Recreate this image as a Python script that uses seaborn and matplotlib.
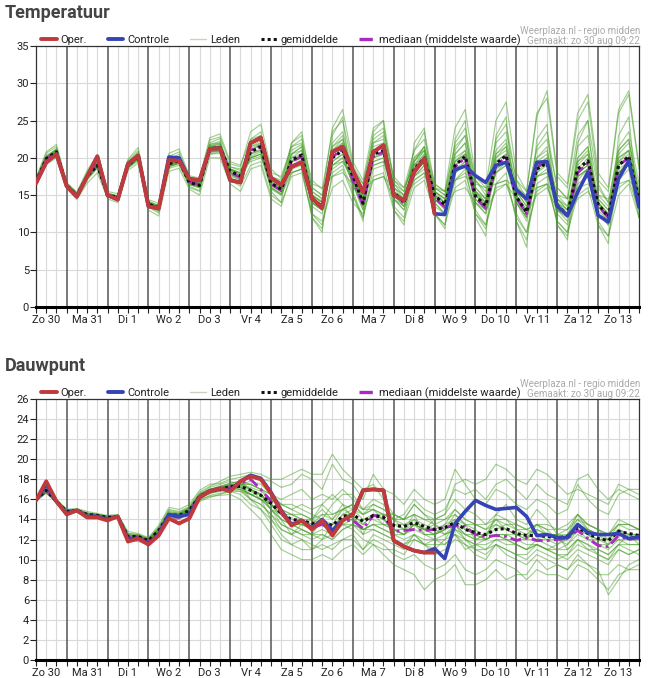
import numpy as np
import pandas as pd
import matplotlib
matplotlib.use("Agg")
import matplotlib.pyplot as plt
import seaborn as sns
from matplotlib.lines import Line2D

sns.set_theme(style="white")
plt.rcParams["font.family"] = ["Roboto", "DejaVu Sans"]

# ---------------- data ----------------
day_labels = ["Zo 30", "Ma 31", "Di 1", "Wo 2", "Do 3", "Vr 4", "Za 5", "Zo 6",
              "Ma 7", "Di 8", "Wo 9", "Do 10", "Vr 11", "Za 12", "Zo 13"]

temp_oper = [16.6, 19.4, 20.5, 16.2, 14.8, 17.5, 20.2, 15.0, 14.4, 19.2, 20.3,
             13.5, 13.2, 19.7, 19.6, 17.2, 17.0, 21.2, 21.3, 17.0, 16.7, 22.0, 22.7,
             17.3, 16.4, 18.8, 19.4, 14.6, 13.3, 20.8, 21.5, 18.3, 15.4, 20.8, 21.7,
             15.0, 14.3, 18.1, 19.9, 12.5]
temp_ctrl = [16.6, 19.4, 20.5, 16.2, 14.8, 17.5, 20.2, 15.0, 14.4, 19.2, 20.3,
             13.5, 13.2, 20.1, 20.0, 17.2, 17.0, 21.2, 21.3, 17.0, 16.7, 22.0, 22.7,
             17.3, 16.4, 18.8, 19.4, 14.6, 13.3, 20.8, 21.5, 18.3, 15.4, 20.8, 21.7,
             15.0, 14.3, 18.1, 19.9, 12.5, 12.4, 18.4, 18.9, 17.6, 16.7, 19.0, 19.4,
             15.7, 14.5, 19.4, 19.5, 13.5, 12.3, 15.4, 18.1, 12.3, 11.4, 17.2, 19.6, 13.4]
temp_mean = [16.8, 19.9, 20.8, 16.3, 15.0, 17.5, 19.0, 15.0, 14.7, 19.0, 20.2,
             13.8, 13.3, 19.2, 19.6, 16.7, 16.3, 21.2, 21.4, 18.2, 17.6, 20.8, 21.5,
             16.6, 15.8, 19.7, 20.4, 14.5, 13.5, 20.0, 21.0, 17.6, 13.9, 20.5, 21.0,
             15.4, 14.0, 18.5, 20.0, 15.0, 13.7, 19.0, 20.2, 14.9, 13.6, 19.2, 20.3,
             14.8, 12.7, 18.5, 19.3, 13.6, 12.4, 18.5, 19.6, 13.8, 12.1, 19.0, 20.2, 14.3]
temp_median = [16.8, 19.8, 20.8, 16.3, 15.0, 17.6, 19.2, 15.0, 14.7, 19.1, 20.2,
               13.7, 13.3, 19.4, 19.7, 16.8, 16.4, 21.2, 21.4, 18.0, 17.4, 21.0, 21.6,
               16.5, 15.6, 19.5, 20.2, 14.4, 13.4, 20.1, 21.2, 17.0, 13.7, 20.2, 20.8,
               15.2, 13.9, 18.4, 19.8, 14.6, 13.4, 18.8, 20.0, 14.6, 13.3, 19.0, 20.1,
               14.6, 12.5, 18.8, 19.5, 13.4, 12.2, 18.0, 19.3, 13.6, 12.0, 19.0, 20.0, 14.0]
temp_members = [
    [17.2, 20.6, 21.5, 16.5, 15.3, 18.0, 20.0, 15.3, 14.9, 19.6, 21.0, 14.2, 13.6, 20.2, 20.8,
     17.2, 16.8, 22.4, 22.8, 19.2, 18.8, 23.5, 24.5, 18.5, 17.2, 21.5, 22.5, 17.0, 15.8, 23.5, 25.0,
     19.0, 16.5, 23.0, 24.0, 17.0, 15.5, 20.0, 21.0, 15.5, 14.0, 19.5, 20.5, 15.5, 13.5, 18.0, 19.5,
     15.0, 12.5, 19.0, 20.0, 14.5, 13.0, 18.0, 19.0, 14.0, 12.5, 20.0, 21.0, 15.0],
    [16.5, 19.4, 20.3, 16.0, 14.6, 17.0, 18.6, 14.8, 14.3, 18.6, 19.6, 13.5, 12.8, 18.6, 19.0,
     16.2, 15.6, 20.5, 20.6, 17.0, 16.2, 19.0, 19.5, 15.0, 14.0, 17.5, 18.0, 12.5, 11.0, 17.5, 18.5,
     15.0, 12.0, 17.5, 18.0, 13.0, 11.5, 16.0, 17.0, 12.5, 11.0, 16.0, 17.0, 12.5, 11.0, 16.5, 17.0,
     12.0, 10.0, 16.0, 16.5, 11.5, 10.0, 15.0, 16.0, 11.0, 9.5, 15.0, 16.5, 12.0],
    [16.9, 20.1, 21.0, 16.4, 15.1, 17.6, 19.3, 15.1, 14.8, 19.2, 20.4, 13.9, 13.4, 19.4, 19.9,
     16.9, 16.5, 21.6, 21.8, 18.5, 17.8, 21.5, 22.0, 17.0, 16.0, 20.5, 21.5, 15.0, 14.0, 21.0, 22.5,
     18.0, 15.0, 22.0, 23.0, 16.5, 15.0, 21.0, 23.5, 16.5, 15.5, 24.0, 26.5, 17.5, 16.0, 25.0, 27.5,
     18.0, 15.5, 26.0, 28.0, 17.5, 16.0, 25.0, 27.5, 17.0, 15.5, 26.0, 28.5, 18.5],
    [17.0, 20.2, 21.2, 16.6, 15.2, 17.8, 19.4, 15.2, 14.9, 19.4, 20.6, 14.0, 13.5, 19.6, 20.1,
     17.0, 16.6, 21.8, 22.0, 18.8, 18.3, 21.8, 22.5, 17.5, 16.8, 21.0, 21.8, 15.5, 14.5, 21.5, 22.5,
     18.5, 15.0, 21.5, 22.0, 16.5, 15.5, 19.5, 21.5, 16.0, 15.0, 20.5, 22.0, 16.0, 14.5, 20.5, 21.5,
     16.5, 14.0, 20.0, 21.0, 15.0, 13.5, 20.0, 21.5, 15.0, 13.5, 20.5, 22.0, 15.5],
    [16.6, 19.6, 20.5, 16.1, 14.8, 17.2, 18.7, 14.8, 14.5, 18.7, 19.8, 13.6, 13.0, 18.8, 19.3,
     16.4, 16.0, 20.7, 20.9, 17.6, 17.0, 20.0, 20.5, 15.8, 15.0, 18.5, 19.5, 13.5, 12.5, 19.0, 20.0,
     16.5, 13.0, 19.5, 20.0, 14.5, 13.0, 17.5, 19.0, 13.5, 12.5, 18.0, 19.0, 14.0, 12.5, 18.0, 19.0,
     14.0, 11.5, 17.5, 18.0, 12.5, 11.0, 17.5, 18.5, 12.5, 11.0, 18.0, 19.0, 13.5],
    [16.7, 20.0, 21.2, 16.2, 14.7, 17.7, 19.6, 14.8, 14.4, 19.3, 20.8, 13.4, 12.6, 19.8, 20.5,
     16.0, 15.5, 22.0, 22.6, 17.5, 16.5, 22.5, 23.5, 15.5, 14.0, 22.0, 23.0, 12.0, 10.0, 23.0, 25.5,
     15.0, 11.5, 23.5, 25.0, 13.0, 11.0, 22.0, 24.0, 12.5, 10.5, 22.5, 25.0, 12.0, 9.5, 23.0, 25.5,
     11.5, 8.0, 22.5, 24.5, 11.0, 9.0, 22.0, 25.0, 11.0, 8.5, 23.0, 25.5, 12.0],
    [16.8, 19.8, 20.6, 16.4, 15.2, 17.4, 18.8, 15.1, 14.8, 18.8, 19.9, 14.0, 13.6, 18.9, 19.3,
     17.0, 16.8, 20.5, 20.8, 18.8, 18.5, 19.5, 20.0, 17.5, 17.0, 18.0, 18.5, 16.5, 16.0, 17.5, 18.0,
     16.5, 15.5, 17.0, 17.5, 16.0, 15.0, 16.5, 17.5, 16.0, 15.5, 17.0, 17.5, 16.5, 16.0, 16.5, 17.0,
     16.0, 15.0, 16.0, 16.5, 15.0, 14.5, 16.0, 16.5, 15.0, 14.5, 16.5, 17.0, 15.5],
    [16.9, 20.0, 20.9, 16.3, 15.0, 17.6, 19.1, 15.0, 14.6, 18.9, 20.0, 13.7, 13.2, 19.0, 19.4,
     16.6, 16.2, 20.8, 21.0, 17.8, 17.2, 19.8, 20.2, 16.0, 15.0, 18.0, 18.5, 12.5, 11.5, 16.0, 17.0,
     14.0, 12.5, 17.0, 17.5, 14.5, 13.5, 19.5, 21.5, 16.0, 15.0, 22.0, 24.0, 17.0, 15.0, 21.0, 22.5,
     16.0, 14.0, 21.5, 23.5, 16.0, 14.5, 23.0, 25.0, 16.5, 14.0, 21.0, 22.5, 15.5],
    [16.7, 19.7, 20.7, 16.2, 14.9, 17.3, 18.8, 14.9, 14.6, 18.8, 20.1, 13.8, 13.4, 19.5, 20.0,
     17.0, 16.5, 21.5, 21.8, 18.5, 18.0, 22.0, 23.0, 17.5, 16.5, 22.0, 23.5, 16.0, 15.0, 24.0, 26.5,
     19.5, 17.0, 24.0, 25.0, 17.0, 16.0, 19.0, 20.0, 14.0, 12.5, 17.0, 18.0, 13.0, 11.0, 16.0, 16.5,
     12.5, 10.0, 15.5, 16.5, 11.5, 10.0, 17.0, 18.5, 12.5, 11.0, 18.0, 19.5, 13.5],
    [16.8, 19.9, 20.7, 16.3, 15.0, 17.5, 18.9, 15.0, 14.7, 19.1, 20.2, 13.9, 13.3, 19.1, 19.6,
     16.8, 16.4, 21.0, 21.3, 18.3, 17.5, 21.0, 21.8, 16.5, 15.5, 19.0, 19.5, 14.0, 13.0, 20.5, 22.0,
     17.5, 14.5, 21.0, 21.5, 15.5, 14.0, 18.0, 19.5, 15.0, 14.0, 19.5, 21.0, 15.5, 14.0, 19.0, 19.5,
     14.5, 12.0, 18.0, 19.5, 14.0, 12.5, 19.5, 21.0, 14.0, 12.0, 19.0, 20.0, 14.0],
    [16.9, 20.1, 21.0, 16.4, 15.1, 17.6, 19.2, 15.1, 14.8, 19.2, 20.4, 13.9, 13.3, 19.3, 19.7,
     16.8, 16.4, 21.4, 21.6, 18.0, 17.4, 20.5, 21.0, 16.0, 15.2, 19.5, 20.0, 14.0, 13.0, 19.5, 20.5,
     16.5, 13.5, 20.0, 20.5, 15.0, 13.5, 19.0, 21.0, 15.0, 14.0, 21.0, 23.0, 16.0, 14.5, 22.5, 24.5,
     17.0, 15.5, 25.5, 29.0, 18.0, 16.5, 26.0, 28.5, 18.0, 16.0, 26.5, 29.0, 19.0],
    [16.6, 19.5, 20.4, 16.2, 14.9, 17.3, 18.8, 14.9, 14.5, 18.7, 19.9, 13.7, 13.1, 18.9, 19.3,
     16.5, 16.1, 20.8, 21.0, 18.0, 17.6, 20.0, 20.5, 16.5, 16.0, 18.5, 19.0, 15.0, 14.0, 18.5, 19.5,
     17.0, 14.5, 19.0, 19.5, 15.5, 14.5, 17.0, 18.0, 14.5, 13.5, 15.5, 16.0, 14.0, 13.0, 15.5, 16.5,
     14.5, 12.5, 15.0, 16.0, 13.0, 12.0, 14.5, 15.5, 13.5, 12.0, 16.0, 17.0, 13.0],
    [16.4, 19.1, 20.0, 15.9, 14.4, 16.6, 18.0, 14.5, 14.0, 18.3, 19.3, 13.0, 12.2, 18.2, 18.6,
     15.8, 15.0, 20.0, 20.0, 16.5, 15.5, 18.5, 19.0, 14.5, 13.5, 18.0, 18.5, 12.0, 10.5, 18.0, 19.0,
     15.5, 12.0, 18.5, 19.0, 13.5, 12.0, 17.0, 18.0, 12.5, 11.0, 17.0, 18.5, 12.5, 10.5, 16.5, 18.0,
     11.5, 9.0, 16.5, 17.5, 11.0, 9.5, 16.5, 17.5, 11.5, 9.5, 17.0, 18.5, 12.0],
    [17.3, 20.8, 21.8, 16.7, 15.4, 18.3, 20.4, 15.5, 15.2, 19.8, 21.4, 14.4, 13.9, 20.6, 21.2,
     17.6, 17.3, 22.7, 23.2, 19.5, 19.0, 22.5, 23.0, 18.0, 17.5, 21.5, 22.0, 16.0, 15.0, 22.0, 23.5,
     18.5, 16.5, 22.5, 23.5, 17.5, 16.0, 21.0, 22.5, 16.5, 15.5, 21.5, 23.0, 17.0, 15.5, 22.0, 23.5,
     17.0, 14.5, 21.0, 22.5, 16.0, 14.5, 21.5, 23.0, 16.0, 14.0, 21.5, 23.5, 16.5],
    [16.7, 20.3, 21.1, 16.5, 15.2, 17.3, 19.3, 15.2, 14.5, 19.3, 20.5, 14.0, 13.5, 19.0, 19.9,
     17.0, 16.6, 21.6, 22.0, 18.0, 17.2, 21.5, 22.3, 17.2, 16.3, 20.5, 21.0, 15.0, 14.2, 21.0, 22.0,
     17.0, 14.5, 21.0, 21.5, 16.0, 14.5, 19.5, 21.0, 15.5, 14.5, 20.0, 21.0, 15.5, 14.0, 20.0, 21.5,
     15.5, 13.5, 19.5, 20.5, 14.5, 13.0, 19.5, 20.5, 14.5, 13.0, 20.0, 21.0, 15.0],
    [16.9, 19.6, 20.6, 16.0, 14.9, 17.8, 18.8, 14.8, 14.6, 18.7, 19.9, 13.6, 13.0, 19.4, 19.4,
     16.4, 16.0, 20.9, 21.0, 18.4, 17.8, 20.2, 20.8, 16.0, 15.2, 19.0, 19.8, 14.0, 13.0, 19.5, 20.5,
     17.0, 13.5, 20.0, 20.5, 15.0, 13.5, 18.0, 19.5, 14.5, 13.0, 18.5, 19.5, 14.5, 13.0, 18.5, 19.5,
     14.0, 12.0, 18.0, 19.0, 13.0, 12.0, 18.0, 19.0, 13.5, 11.5, 18.5, 19.5, 14.0],
    [17.0, 20.0, 20.9, 16.4, 15.1, 17.5, 19.1, 15.0, 14.8, 19.1, 20.3, 13.9, 13.4, 19.1, 19.8,
     16.8, 16.4, 21.5, 21.5, 18.5, 18.0, 21.2, 22.0, 16.8, 16.0, 20.0, 21.0, 15.0, 14.0, 20.5, 21.5,
     18.0, 14.5, 20.5, 20.5, 15.5, 14.5, 18.5, 20.5, 15.5, 14.5, 19.5, 20.5, 15.0, 14.0, 20.0, 21.0,
     15.0, 13.0, 19.0, 20.0, 14.0, 13.0, 19.0, 20.5, 14.0, 12.5, 19.5, 21.0, 14.5],
    [16.6, 19.8, 20.9, 16.2, 14.8, 17.4, 18.9, 14.9, 14.5, 18.9, 20.0, 13.7, 13.2, 18.9, 19.5,
     16.5, 16.2, 21.0, 21.2, 17.8, 17.0, 20.5, 21.0, 16.2, 15.5, 19.5, 20.0, 14.0, 13.0, 19.0, 20.0,
     16.5, 13.0, 19.5, 20.0, 14.5, 13.0, 17.5, 19.0, 14.0, 12.5, 18.0, 19.5, 14.0, 12.5, 18.5, 19.5,
     14.0, 12.0, 17.5, 18.5, 13.0, 11.5, 17.5, 18.5, 13.0, 11.5, 18.0, 19.5, 13.5],
    [16.8, 20.1, 21.0, 16.3, 15.0, 17.9, 19.5, 15.1, 14.7, 19.4, 20.6, 13.8, 13.3, 19.7, 20.2,
     16.7, 16.3, 21.8, 22.2, 18.0, 17.5, 21.8, 22.5, 16.5, 15.5, 20.5, 21.5, 14.5, 13.5, 21.5, 23.0,
     17.5, 14.0, 22.0, 22.5, 15.5, 14.0, 20.0, 21.5, 15.0, 13.5, 20.5, 22.0, 15.0, 13.5, 20.5, 22.0,
     14.5, 12.5, 20.0, 21.5, 13.5, 12.0, 20.0, 21.5, 13.5, 12.0, 21.0, 22.5, 14.5],
    [16.9, 19.7, 20.5, 16.4, 15.2, 17.2, 18.7, 15.2, 14.9, 18.7, 19.8, 14.1, 13.6, 18.8, 19.2,
     17.0, 16.6, 20.8, 21.0, 18.5, 18.0, 20.0, 20.5, 17.0, 16.5, 19.0, 19.5, 15.5, 14.5, 19.0, 19.5,
     17.5, 15.0, 19.0, 19.5, 16.0, 15.0, 17.5, 18.5, 15.5, 14.5, 18.0, 19.0, 15.5, 14.5, 18.0, 19.0,
     15.5, 13.5, 17.5, 18.0, 14.5, 13.5, 17.5, 18.5, 14.5, 13.0, 18.0, 19.0, 15.0],
    [16.8, 20.0, 20.8, 16.3, 14.9, 17.6, 19.0, 14.9, 14.6, 19.0, 20.1, 13.7, 13.1, 19.3, 19.6,
     16.6, 16.2, 21.3, 21.6, 18.3, 17.6, 21.0, 21.8, 16.5, 15.6, 20.0, 20.5, 14.5, 13.5, 20.0, 21.5,
     17.5, 13.5, 21.0, 21.5, 15.0, 14.0, 19.0, 20.5, 15.0, 13.5, 19.0, 20.0, 15.0, 13.5, 19.5, 20.5,
     14.5, 12.5, 18.5, 19.5, 13.5, 12.5, 18.5, 20.0, 14.0, 12.0, 19.5, 20.5, 14.5],
    [16.7, 19.9, 20.7, 16.2, 15.0, 17.4, 18.9, 15.0, 14.6, 18.9, 20.2, 13.8, 13.3, 19.1, 19.5,
     16.7, 16.3, 21.1, 21.3, 18.1, 17.5, 20.6, 21.2, 16.7, 16.0, 19.5, 20.5, 14.5, 13.5, 20.5, 21.5,
     17.5, 14.0, 20.0, 21.0, 15.5, 14.5, 18.0, 19.5, 15.0, 14.0, 19.0, 20.5, 14.5, 13.0, 19.5, 20.5,
     15.0, 13.0, 18.5, 19.5, 14.0, 12.5, 18.0, 19.5, 14.0, 12.5, 19.0, 20.0, 14.0],
]

dew_oper = [15.9, 17.8, 15.8, 14.5, 14.9, 14.2, 14.2, 13.9, 14.3, 11.8, 12.1,
            11.5, 12.4, 14.1, 13.6, 14.1, 16.2, 16.8, 17.1, 16.8, 17.8, 18.3, 18.0,
            16.6, 14.8, 13.4, 13.9, 13.0, 13.9, 12.4, 13.9, 14.5, 16.9, 17.0, 16.9,
            11.9, 11.3, 10.9, 10.7, 10.7]
dew_ctrl = [15.9, 17.5, 15.8, 14.6, 14.9, 14.3, 14.3, 14.0, 14.3, 12.0, 12.1,
            11.6, 12.5, 14.5, 14.3, 14.5, 16.2, 16.8, 17.1, 16.9, 17.8, 18.4, 18.1,
            16.7, 14.9, 13.5, 13.9, 13.1, 14.0, 12.9, 13.9, 14.5, 16.9, 17.0, 16.9,
            11.9, 11.3, 10.9, 10.7, 11.1, 10.1, 13.6, 14.8, 15.9, 15.4, 15.0, 15.1,
            15.2, 14.3, 12.4, 12.5, 12.2, 12.2, 13.5, 12.7, 12.5, 12.5, 12.6, 12.1, 12.3]
dew_mean = [16.0, 16.9, 15.8, 14.8, 14.9, 14.5, 14.4, 14.2, 14.3, 12.3, 12.3,
            11.9, 12.9, 14.5, 14.4, 14.9, 16.3, 16.8, 17.0, 17.3, 17.3, 16.9, 16.4,
            15.6, 14.6, 14.0, 13.9, 13.6, 13.8, 13.4, 14.3, 14.5, 13.8, 14.4, 14.2,
            13.4, 13.3, 13.7, 13.3, 13.0, 13.2, 13.7, 13.0, 12.7, 12.5, 13.0, 13.1,
            12.6, 12.4, 12.4, 12.3, 12.2, 12.3, 13.2, 12.6, 12.1, 11.9, 12.8, 12.6, 12.4]
dew_median = [16.0, 16.9, 15.8, 14.8, 14.9, 14.4, 14.3, 14.1, 14.3, 12.2, 12.3,
              11.8, 12.8, 14.3, 14.2, 14.8, 16.3, 16.9, 17.1, 17.2, 17.6, 18.0, 17.0,
              15.8, 14.6, 13.5, 13.8, 13.2, 13.5, 12.9, 13.9, 13.9, 13.1, 14.4, 14.3,
              12.8, 12.9, 13.0, 12.9, 13.0, 13.2, 13.4, 13.3, 12.5, 12.3, 12.4, 12.3,
              11.9, 12.2, 11.9, 11.9, 12.0, 12.1, 12.9, 12.1, 11.4, 11.3, 12.4, 12.0, 12.2]
dew_members = [
    [16.2, 17.2, 16.0, 15.0, 15.1, 14.8, 14.6, 14.4, 14.5, 12.8, 12.6, 12.2, 13.4, 15.2, 15.0,
     15.5, 16.9, 17.5, 17.6, 18.0, 18.2, 18.5, 18.0, 17.8, 17.2, 17.5, 18.5, 18.0, 17.0, 19.5, 18.0,
     17.5, 16.0, 18.5, 17.0, 16.5, 15.5, 17.0, 16.0, 15.5, 16.0, 19.0, 17.5, 16.0, 15.5, 17.0, 16.5,
     15.5, 15.0, 16.0, 15.5, 14.5, 15.0, 17.5, 16.0, 15.0, 14.5, 16.5, 17.0, 16.5],
    [15.8, 16.7, 15.6, 14.6, 14.8, 14.2, 14.2, 14.0, 14.1, 11.8, 12.0, 11.5, 12.5, 14.0, 14.0,
     14.6, 15.8, 16.2, 16.5, 16.8, 16.5, 15.5, 15.0, 13.5, 12.0, 11.5, 12.0, 11.0, 11.5, 11.0, 12.0,
     12.5, 11.0, 12.0, 11.5, 10.5, 10.0, 10.5, 9.5, 9.0, 9.5, 10.5, 9.0, 8.5, 9.0, 10.0, 9.5,
     9.0, 8.0, 9.0, 8.5, 8.5, 8.0, 9.5, 9.0, 8.0, 7.0, 8.5, 9.0, 9.0],
    [16.1, 17.0, 15.9, 14.9, 15.0, 14.6, 14.5, 14.3, 14.4, 12.5, 12.4, 12.0, 13.0, 14.8, 14.6,
     15.2, 16.5, 17.2, 17.5, 17.8, 17.5, 16.0, 15.0, 14.0, 13.0, 12.5, 13.0, 12.5, 14.0, 15.5, 16.5,
     16.5, 15.0, 16.0, 15.5, 14.0, 13.0, 14.5, 12.5, 12.0, 11.5, 12.5, 11.0, 11.5, 12.0, 14.5, 15.5,
     14.0, 13.5, 15.0, 14.0, 12.5, 11.0, 12.0, 11.5, 10.5, 10.0, 11.5, 12.5, 11.5],
    [15.9, 16.8, 15.7, 14.7, 14.9, 14.4, 14.3, 14.1, 14.2, 12.2, 12.2, 11.8, 12.8, 14.3, 14.3,
     14.8, 16.2, 16.7, 16.8, 17.2, 17.5, 17.8, 17.5, 16.5, 15.5, 15.0, 14.5, 14.0, 15.0, 14.0, 15.0,
     14.5, 12.5, 13.0, 12.5, 12.0, 11.5, 12.5, 11.5, 11.0, 12.0, 13.5, 12.0, 11.0, 10.5, 11.5, 11.0,
     10.5, 10.0, 11.0, 10.5, 10.0, 10.5, 12.0, 11.0, 11.0, 10.5, 11.5, 11.0, 10.5],
    [16.0, 16.9, 15.8, 14.8, 14.8, 14.5, 14.4, 14.2, 14.3, 12.3, 12.3, 11.9, 12.8, 14.5, 14.5,
     15.0, 16.3, 16.9, 17.2, 17.5, 17.6, 17.0, 16.5, 15.0, 13.5, 13.0, 12.5, 12.0, 12.5, 12.0, 13.0,
     13.5, 12.5, 14.5, 13.5, 13.0, 12.5, 13.5, 12.5, 12.5, 13.0, 14.0, 13.5, 13.0, 12.0, 12.5, 12.0,
     11.5, 11.0, 12.0, 11.5, 11.0, 11.5, 13.0, 12.5, 11.5, 11.0, 12.0, 11.5, 11.5],
    [16.1, 17.1, 16.0, 15.0, 15.0, 14.7, 14.5, 14.3, 14.4, 12.6, 12.5, 12.1, 13.2, 15.0, 14.8,
     15.3, 16.7, 17.3, 17.8, 18.3, 18.5, 18.7, 18.5, 18.0, 18.0, 18.5, 19.0, 18.5, 18.5, 20.5, 19.0,
     18.0, 17.0, 17.5, 16.0, 14.5, 14.0, 15.5, 14.5, 14.0, 14.5, 16.0, 15.0, 14.5, 13.5, 14.0, 13.0,
     12.5, 12.0, 13.5, 13.0, 12.0, 12.5, 14.0, 13.0, 12.5, 12.0, 13.5, 13.5, 13.0],
    [15.9, 16.6, 15.7, 14.7, 14.7, 14.3, 14.2, 14.1, 14.2, 12.0, 12.1, 11.7, 12.7, 14.0, 14.1,
     14.6, 16.0, 16.3, 16.4, 16.5, 16.0, 15.0, 14.0, 12.5, 11.0, 10.5, 10.0, 10.0, 10.5, 10.0, 11.0,
     11.5, 10.5, 11.5, 11.0, 11.0, 10.5, 12.0, 11.5, 12.0, 12.5, 13.5, 12.5, 12.5, 12.0, 12.5, 12.0,
     12.0, 11.5, 11.5, 11.0, 10.5, 10.0, 11.0, 10.5, 10.0, 9.5, 11.0, 10.5, 11.0],
    [16.0, 16.8, 15.9, 14.9, 14.9, 14.5, 14.3, 14.2, 14.3, 12.4, 12.2, 11.9, 12.9, 14.6, 14.4,
     14.9, 16.4, 16.8, 17.0, 17.4, 17.2, 16.5, 16.0, 15.5, 14.5, 13.5, 13.5, 13.0, 13.5, 13.0, 14.5,
     15.0, 14.5, 15.5, 15.0, 14.0, 14.5, 16.0, 15.0, 14.5, 15.0, 17.0, 16.5, 17.0, 16.0, 17.5, 18.0,
     17.0, 16.0, 17.5, 16.5, 16.0, 15.5, 18.0, 18.5, 17.0, 16.0, 17.0, 16.5, 16.0],
    [15.9, 16.7, 15.8, 14.8, 14.9, 14.4, 14.4, 14.2, 14.3, 12.1, 12.3, 12.0, 12.9, 14.4, 14.3,
     14.8, 16.2, 16.6, 16.9, 17.2, 17.0, 16.5, 16.0, 15.0, 14.0, 13.5, 13.0, 12.5, 12.0, 12.5, 13.5,
     13.0, 12.0, 11.5, 10.5, 9.5, 9.0, 8.5, 7.0, 8.0, 8.5, 9.5, 7.5, 7.5, 8.0, 9.0, 8.0,
     8.5, 8.5, 10.0, 9.0, 9.5, 9.0, 10.5, 9.5, 9.0, 6.5, 8.0, 9.5, 10.0],
    [16.0, 16.9, 15.8, 14.8, 14.9, 14.5, 14.3, 14.2, 14.3, 12.2, 12.4, 11.9, 12.9, 14.5, 14.4,
     14.9, 16.3, 16.8, 17.0, 17.3, 17.3, 17.0, 16.5, 15.5, 14.5, 14.0, 14.0, 13.5, 14.0, 13.0, 14.5,
     14.5, 13.5, 14.5, 14.0, 13.5, 13.0, 14.0, 13.0, 13.0, 13.5, 14.0, 13.0, 12.5, 12.5, 13.5, 13.0,
     12.5, 12.5, 12.0, 12.5, 12.5, 12.5, 13.5, 12.5, 12.0, 12.0, 13.0, 12.5, 12.5],
    [16.1, 17.0, 15.9, 14.9, 15.0, 14.6, 14.5, 14.3, 14.4, 12.4, 12.4, 12.0, 13.0, 14.6, 14.6,
     15.1, 16.5, 17.0, 17.2, 17.4, 17.5, 17.5, 17.0, 16.5, 16.0, 16.5, 17.0, 16.0, 16.5, 16.0, 17.0,
     16.0, 15.0, 15.0, 14.0, 13.0, 12.5, 13.5, 13.0, 14.0, 14.5, 17.5, 18.0, 17.5, 18.0, 19.5, 19.0,
     18.0, 17.5, 19.0, 18.5, 17.5, 16.5, 17.0, 16.5, 16.0, 15.5, 17.5, 17.0, 17.0],
    [15.8, 16.7, 15.7, 14.7, 14.8, 14.3, 14.2, 14.0, 14.1, 11.9, 11.8, 11.5, 12.6, 14.2, 14.2,
     14.6, 15.9, 16.4, 16.6, 16.8, 16.8, 16.5, 16.5, 15.5, 14.0, 12.5, 12.0, 11.5, 11.0, 11.5, 12.0,
     12.0, 11.0, 12.5, 12.0, 11.5, 11.0, 12.5, 11.5, 10.5, 11.0, 12.0, 11.5, 10.5, 10.0, 11.5, 10.5,
     10.0, 9.5, 10.5, 10.0, 9.5, 9.0, 10.0, 9.5, 8.5, 8.5, 9.5, 9.0, 9.5],
    [16.0, 17.0, 15.8, 14.8, 14.9, 14.5, 14.4, 14.2, 14.2, 12.3, 12.3, 11.9, 12.9, 14.6, 14.5,
     15.0, 16.4, 17.0, 17.3, 17.6, 17.8, 17.0, 16.0, 14.0, 12.5, 11.5, 11.0, 11.0, 12.0, 13.5, 15.0,
     15.5, 14.5, 15.0, 14.5, 14.5, 14.0, 15.5, 14.5, 13.5, 12.5, 13.0, 12.0, 11.5, 11.0, 11.5, 11.0,
     10.5, 10.5, 11.5, 11.0, 11.5, 12.5, 14.5, 13.5, 13.0, 12.0, 13.0, 12.0, 12.0],
    [15.9, 16.8, 15.8, 14.8, 14.8, 14.4, 14.4, 14.1, 14.2, 12.2, 12.3, 11.9, 12.8, 14.4, 14.4,
     14.9, 16.2, 16.7, 16.9, 17.0, 17.0, 16.0, 15.5, 14.5, 13.0, 12.5, 13.5, 14.0, 15.5, 16.5, 15.5,
     14.0, 13.0, 13.5, 13.0, 12.5, 12.5, 13.5, 13.0, 12.5, 13.0, 14.5, 13.5, 12.0, 12.5, 13.0, 13.5,
     13.0, 12.5, 13.5, 12.5, 12.5, 13.0, 14.5, 13.0, 12.5, 11.5, 12.5, 12.0, 12.0],
    [16.1, 16.9, 15.9, 14.9, 15.0, 14.6, 14.5, 14.3, 14.4, 12.6, 12.5, 12.1, 13.2, 14.9, 14.7,
     15.2, 16.6, 17.0, 17.3, 17.6, 17.8, 17.5, 17.0, 16.5, 15.5, 15.0, 15.5, 15.0, 15.5, 14.5, 15.0,
     15.5, 14.5, 15.0, 14.5, 14.0, 14.0, 14.5, 14.0, 13.5, 14.0, 14.5, 13.5, 13.5, 13.0, 14.0, 14.0,
     13.5, 13.0, 13.5, 13.0, 13.0, 13.0, 14.0, 13.5, 13.0, 12.5, 13.5, 13.5, 13.0],
    [15.9, 16.8, 15.7, 14.7, 14.8, 14.4, 14.3, 14.1, 14.2, 12.0, 12.1, 11.7, 12.6, 14.2, 14.2,
     14.7, 16.1, 16.6, 16.8, 17.0, 16.8, 16.0, 15.5, 14.5, 13.5, 13.0, 12.5, 12.5, 12.5, 12.0, 13.0,
     13.5, 13.0, 13.5, 13.0, 12.5, 12.0, 12.5, 12.0, 12.0, 12.0, 12.5, 12.0, 11.5, 11.5, 12.0, 12.0,
     11.5, 11.0, 11.5, 11.0, 11.0, 11.0, 12.0, 11.5, 11.0, 10.5, 11.5, 11.5, 11.5],
    [16.0, 17.0, 15.8, 14.8, 14.9, 14.5, 14.4, 14.2, 14.3, 12.4, 12.2, 11.8, 12.9, 14.6, 14.5,
     15.0, 16.4, 17.0, 17.1, 17.4, 17.5, 17.5, 17.0, 16.0, 15.0, 14.5, 14.0, 14.0, 14.5, 14.0, 15.5,
     15.0, 14.0, 14.0, 13.5, 13.0, 12.5, 13.0, 12.5, 12.5, 13.5, 15.0, 14.0, 13.5, 13.0, 13.5, 13.0,
     12.5, 12.0, 13.0, 12.5, 12.0, 12.0, 13.0, 12.0, 12.0, 11.5, 13.0, 12.5, 12.0],
    [16.0, 16.8, 15.8, 14.7, 14.9, 14.5, 14.3, 14.2, 14.3, 12.2, 12.3, 11.9, 12.8, 14.4, 14.3,
     14.8, 16.2, 16.8, 17.0, 17.2, 17.0, 16.5, 16.0, 15.5, 14.5, 14.5, 14.5, 14.0, 13.5, 13.0, 13.5,
     13.5, 13.0, 13.5, 13.5, 13.5, 13.5, 14.0, 13.5, 13.0, 12.5, 13.0, 12.5, 12.0, 12.0, 12.5, 12.5,
     12.5, 12.5, 13.0, 12.5, 12.5, 12.0, 13.0, 12.5, 12.0, 12.0, 13.0, 12.5, 12.5],
    [16.1, 17.0, 15.9, 14.9, 15.0, 14.6, 14.5, 14.3, 14.4, 12.5, 12.4, 12.0, 13.1, 14.7, 14.6,
     15.1, 16.5, 17.0, 17.2, 17.5, 17.5, 17.0, 16.5, 15.5, 15.0, 14.5, 14.0, 13.5, 14.5, 14.5, 15.0,
     15.5, 15.0, 15.5, 15.0, 14.5, 14.0, 14.5, 14.0, 14.0, 14.0, 15.0, 14.0, 13.5, 13.5, 14.5, 14.0,
     13.0, 13.0, 13.5, 13.5, 13.0, 13.5, 14.5, 13.5, 13.0, 12.5, 13.5, 13.0, 13.0],
    [15.9, 16.7, 15.8, 14.8, 14.8, 14.4, 14.4, 14.2, 14.2, 12.1, 12.2, 11.8, 12.7, 14.3, 14.3,
     14.8, 16.2, 16.7, 16.9, 17.2, 17.2, 16.8, 16.5, 15.0, 14.0, 13.5, 13.0, 12.5, 13.0, 12.5, 13.5,
     14.0, 13.0, 13.0, 12.5, 12.0, 11.5, 12.0, 11.5, 11.5, 11.5, 12.5, 11.5, 11.0, 11.0, 12.0, 11.5,
     11.5, 11.0, 11.5, 11.0, 10.5, 10.5, 11.5, 11.0, 10.5, 10.0, 11.0, 10.5, 11.0],
    [16.0, 16.9, 15.8, 14.8, 14.9, 14.5, 14.4, 14.2, 14.3, 12.3, 12.4, 12.0, 13.0, 14.5, 14.4,
     14.9, 16.3, 16.9, 17.1, 17.3, 17.4, 17.2, 16.8, 16.0, 15.5, 15.5, 15.0, 14.5, 14.0, 13.5, 14.0,
     14.0, 13.5, 14.5, 14.5, 14.0, 13.5, 13.5, 13.0, 13.5, 13.0, 13.5, 12.5, 12.0, 12.5, 14.0, 13.5,
     13.5, 13.0, 12.5, 12.0, 11.5, 12.0, 13.5, 13.0, 12.5, 12.5, 14.0, 13.5, 13.0],
    [16.0, 16.8, 15.8, 14.8, 14.9, 14.5, 14.5, 14.3, 14.3, 12.3, 12.3, 11.9, 12.9, 14.5, 14.4,
     14.9, 16.3, 16.8, 16.9, 17.3, 17.2, 16.5, 16.0, 15.0, 14.5, 13.5, 13.5, 13.0, 13.5, 13.5, 14.0,
     14.0, 14.0, 14.5, 14.0, 13.0, 13.0, 13.5, 13.0, 12.5, 13.0, 13.5, 13.0, 12.5, 12.0, 12.5, 12.5,
     12.0, 12.0, 12.0, 12.0, 12.0, 11.5, 12.5, 12.0, 11.5, 11.5, 12.0, 12.0, 12.0],
]

# ---------------- styling ----------------
W, H = 650, 678
C_OPER = "#c0393b"
C_CTRL = "#3544b5"
C_LEDEN = "#47a026"
C_MED = "#a82cc0"
GRID_LIGHT = "#d9d9d9"
GRID_DARK = "#555555"

fig = plt.figure(figsize=(W / 100, H / 100), dpi=100)


def fx(px):
    return px / W


def fy(py):
    return 1 - py / H


def draw(ax, members, oper, ctrl, mean, median, ymax, ystep, title, top):
    n = len(mean)
    hours = 6 + 6 * np.arange(n)
    df = pd.DataFrame({
        "h": np.tile(hours, len(members)),
        "v": np.concatenate([np.asarray(m, float) for m in members]),
        "m": np.repeat(np.arange(len(members)), n),
    })
    # grid
    for h in range(12, 360, 6):
        if h % 24 == 0:
            ax.axvline(h, color=GRID_DARK, lw=1.1, zorder=0.5)
        else:
            ax.axvline(h, color=GRID_LIGHT, lw=0.8, zorder=0.4)
    for y in np.arange(ystep, ymax, ystep):
        ax.axhline(y, color=GRID_LIGHT, lw=0.8, zorder=0.4)

    sns.lineplot(data=df, x="h", y="v", units="m", estimator=None, color=C_LEDEN,
                 lw=0.85, alpha=0.5, ax=ax, legend=False, zorder=2)
    sns.lineplot(x=hours, y=median, color=C_MED, lw=2.0, ls=(0, (4, 1.5, 1, 1.5)),
                 ax=ax, zorder=3)
    sns.lineplot(x=hours, y=mean, color="#111111", lw=2.2, ls=(0, (1, 1)), ax=ax, zorder=4)
    sns.lineplot(x=hours, y=ctrl, color=C_CTRL, lw=2.6, ax=ax, zorder=5)
    sns.lineplot(x=hours[:len(oper)], y=oper, color=C_OPER, lw=2.8, ax=ax, zorder=6)

    ax.set_xlim(6, 360)
    ax.set_ylim(0, ymax)
    ax.set_yticks(np.arange(0, ymax + 0.1, ystep))
    ax.set_xticks(np.arange(12, 360, 24))
    ax.set_xticklabels(day_labels)
    ax.set_xticks(np.arange(6, 361, 6), minor=True)
    ax.tick_params(axis="both", which="both", direction="out", length=4, width=0.8,
                   color="#222222", labelsize=8, labelcolor="#222222", pad=1.5)
    ax.tick_params(axis="y", left=True, pad=1)
    ax.tick_params(axis="x", which="both", bottom=True)
    ax.set_xlabel("")
    ax.set_ylabel("")
    for s in ["left", "top", "right"]:
        ax.spines[s].set_visible(True)
        ax.spines[s].set_color("#333333")
        ax.spines[s].set_linewidth(0.9)
    ax.spines["bottom"].set_color("#000000")
    ax.spines["bottom"].set_linewidth(2.2)

    fig.text(fx(5), fy(top - 33), title, fontsize=13, fontweight="bold",
             color="#444444", va="center", ha="left")
    fig.text(fx(640), fy(top - 15), "Weerplaza.nl - regio midden", fontsize=7,
             color="#aaaaaa", ha="right", va="center")
    fig.text(fx(640), fy(top - 5), "Gemaakt: zo 30 aug 09:22", fontsize=7,
             color="#aaaaaa", ha="right", va="center")

    handles = [
        Line2D([], [], color=C_OPER, lw=2.8),
        Line2D([], [], color=C_CTRL, lw=2.8),
        Line2D([], [], color="#c9d2bd", lw=1.0),
        Line2D([], [], color="#111111", lw=2.2, ls=(0, (1, 1))),
        Line2D([], [], color=C_MED, lw=2.4, ls=(0, (4, 1.5, 1, 1.5))),
    ]
    labels = ["Oper.", "Controle", "Leden", "gemiddelde", "mediaan (middelste waarde)"]
    fig.legend(handles, labels, loc="center left", bbox_to_anchor=(fx(41), fy(top - 6)),
               ncol=5, frameon=False, fontsize=8, handlelength=1.4, handletextpad=0.35,
               columnspacing=1.9, borderaxespad=0, borderpad=0, labelcolor="#222222")


ax1 = fig.add_axes([fx(36), fy(307), (639 - 36) / W, (307 - 46) / H])
ax2 = fig.add_axes([fx(36), fy(660), (639 - 36) / W, (660 - 399) / H])

draw(ax1, temp_members, temp_oper, temp_ctrl, temp_mean, temp_median, 35, 5, "Temperatuur", 46)
draw(ax2, dew_members, dew_oper, dew_ctrl, dew_mean, dew_median, 26, 2, "Dauwpunt", 399)

fig.savefig("out.png", dpi=100)
